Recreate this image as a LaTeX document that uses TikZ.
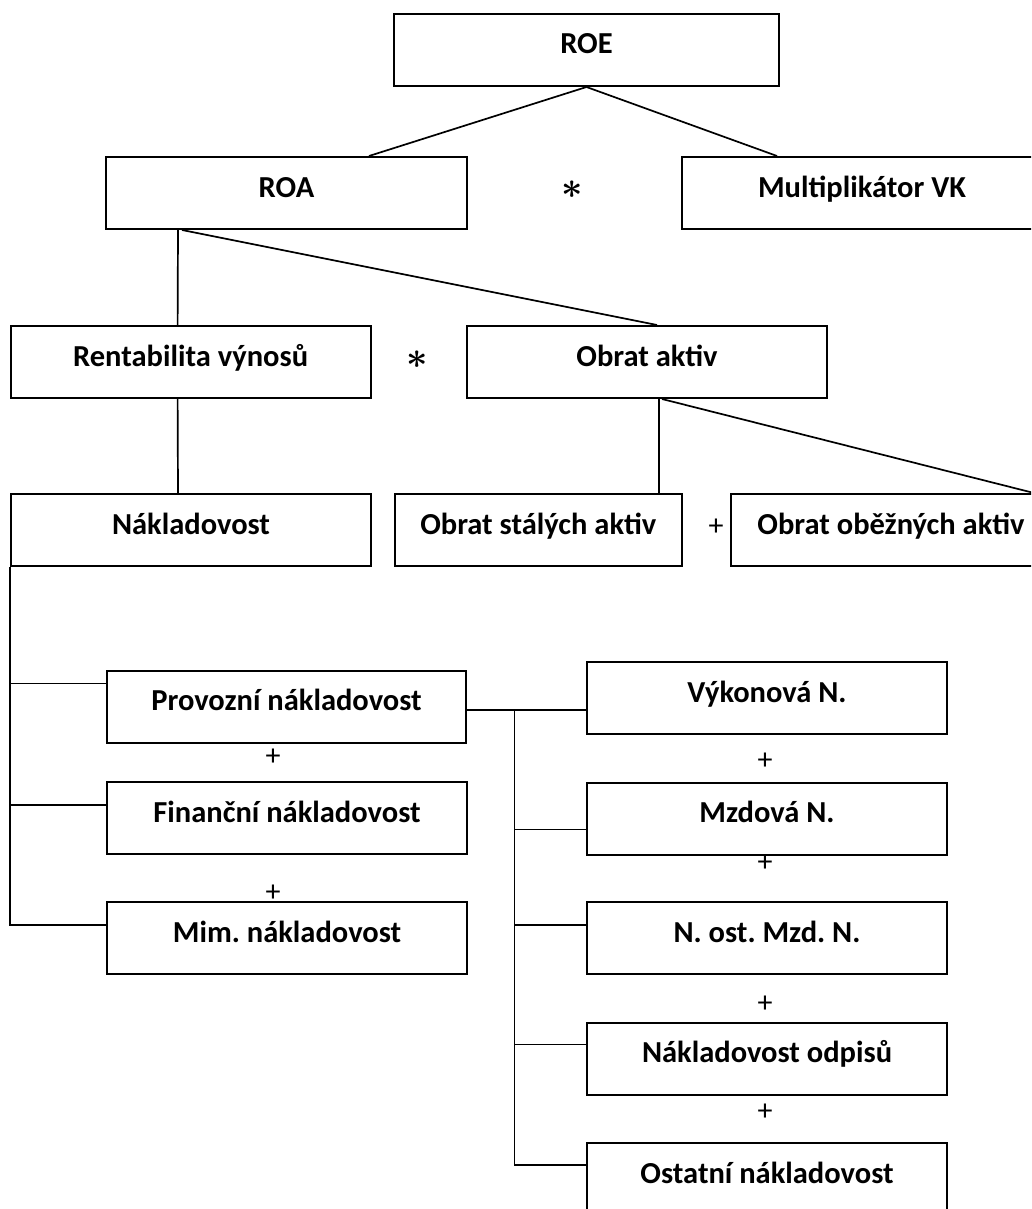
\documentclass[tikz,border=0pt]{standalone}
\usepackage{fontspec}
\setmainfont{Carlito}
\frenchspacing

\begin{document}
\begin{tikzpicture}[
  x=1pt, y=-1pt,
  box/.style={draw, line width=2pt, inner xsep=0pt, inner ysep=1pt,
    text height=39pt, text depth=31pt, minimum height=72pt,
    font=\bfseries\fontsize{30.5}{34}\selectfont},
  link/.style={line width=1.7pt},
  plus/.style={inner sep=0pt, font=\fontsize{30}{34}\selectfont},
  times/.style={inner sep=0pt, scale=1.5, transform shape,
    font=\boldmath\fontsize{24.88}{28}\selectfont}
]
  \clip (0,0) rectangle (1031,1209);
  % top part
  \node[box, minimum width=385pt] (roe) at (586.5,50) {ROE};
  \node[box, minimum width=361pt] (roa) at (286.5,193) {ROA};
  \node[box, minimum width=360pt] (mult) at (862,193) {Multiplikátor VK};
  \node[box, minimum width=360pt] (rent) at (190.6,362) {Rentabilita výnosů};
  \node[box, minimum width=360pt] (obrat) at (647,362) {Obrat aktiv};
  \node[box, minimum width=360pt] (nakl) at (191,530) {Nákladovost};
  \node[box, minimum width=287.5pt] (stale) at (538.25,530) {Obrat stálých aktiv};
  \node[box, minimum width=320pt] (obez) at (891,530) {Obrat oběžných aktiv};
  % cost side
  \node[box, minimum width=359pt] (prov) at (286.5,706.5) {Provozní nákladovost};
  \node[box, minimum width=360pt] (fin) at (287,818) {Finanční nákladovost};
  \node[box, minimum width=360pt] (mim) at (287,938) {Mim. nákladovost};
  \node[box, minimum width=360pt] (vyk) at (767,698) {Výkonová N.};
  \node[box, minimum width=360pt] (mzd) at (767,818.5) {Mzdová N.};
  \node[box, minimum width=360pt] (ost) at (767,938) {N. ost. Mzd. N.};
  \node[box, minimum width=360pt] (odp) at (767,1058.5) {Nákladovost odpisů};
  \node[box, minimum width=360pt] (ostatni) at (767,1179) {Ostatní nákladovost};
  % operators
  \node[times] (t1) at (572,190) {$\ast$};
  \node[times] (t2) at (417,360) {$\ast$};
  \node[plus] (p1) at (716,527) {+};
  \node[plus] (p2) at (273,757) {+};
  \node[plus] (p3) at (273,893) {+};
  \node[plus] (p4) at (765,761) {+};
  \node[plus] (p5) at (765,863) {+};
  \node[plus] (p6) at (765,1004) {+};
  \node[plus] (p7) at (765,1112) {+};
  % links
  \draw[link] (roe.south) -- ([xshift=264pt]roa.north west);
  \draw[link] (roe.south) -- ([xshift=96pt]mult.north west);
  \draw[link] ([xshift=73pt]roa.south west) -- ([xshift=168pt]rent.north west);
  \draw[link] ([xshift=77pt]roa.south west) -- ([xshift=191pt]obrat.north west);
  \draw[link] ([xshift=168pt]rent.south west) -- ([xshift=168pt]nakl.north west);
  \draw[link] ([xshift=193pt]obrat.south west) -- ([xshift=265.5pt]stale.north west);
  \draw[link] ([xshift=196pt]obrat.south west) -- ([xshift=304pt]obez.north west);
  \foreach \n/\d in {prov/14pt,fin/24pt,mim/24pt}
    \draw[link] (nakl.south west) |- ([yshift=-\d]\n.north west);
  \coordinate (bus) at (514.5,710);
  \draw[link] ([yshift=-3.5pt]prov.east) -- (bus) -- (bus -| vyk.west);
  \draw[link] (bus) |- ([yshift=-23pt]ostatni.north west);
  \foreach \n/\d in {mzd/48pt,ost/24pt,odp/23pt}
    \draw[link] ([yshift=-\d]\n.north west) -| (bus);
\end{tikzpicture}
\end{document}
